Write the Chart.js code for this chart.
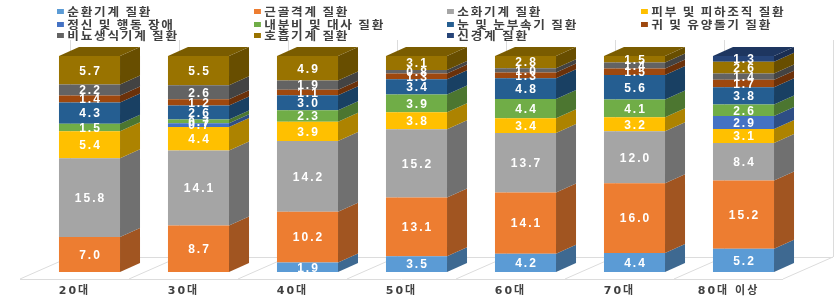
<!DOCTYPE html>
<html>
<head>
<meta charset="utf-8">
<script src="https://cdn.jsdelivr.net/npm/chart.js@4/dist/chart.umd.min.js"></script>
<style>
html, body { margin: 0; padding: 0; background: #fff; }
#wrap { position: relative; width: 840px; height: 296px; overflow: hidden; }
#legend { position: absolute; left: 0; top: 0; width: 840px; height: 44px; color: #404040;
  font: bold 11px "Noto Sans CJK KR", "Noto Sans", sans-serif; }
.item { position: absolute; white-space: nowrap; letter-spacing: 1.5px; line-height: 12px; height: 12px;
  transform: scaleX(1.15); transform-origin: 0 50%; }
.box { display: inline-block; width: 6px; height: 5px; margin-right: 3px; vertical-align: 2px; }
</style>
</head>
<body>
<div id="wrap">
  <canvas id="chart" width="840" height="296"></canvas>
  <div id="legend"></div>
</div>
<script>
// 연령대
const categories = ["20대", "30대", "40대", "50대", "60대", "70대", "80대 이상"];

// 질환 유형 (아래에서 위로 쌓이는 순서)
const seriesNames = [
    "순환기계 질환", "근골격계 질환", "소화기계 질환", "피부 및 피하조직 질환",
    "정신 및 행동 장애", "내분비 및 대사 질환", "눈 및 눈부속기 질환", "귀 및 유양돌기 질환",
    "비뇨생식기계 질환", "호흡기계 질환", "신경계 질환"
];

// 각 유형별 값 (0 = 표시 없음)
const circulatory     = [0,    0,    1.9,  3.5,  4.2,  4.4,  5.2];
const musculoskeletal = [7.0,  8.7,  10.2, 13.1, 14.1, 16.0, 15.2];
const digestive       = [15.8, 14.1, 14.2, 15.2, 13.7, 12.0, 8.4];
const skin            = [5.4,  4.4,  3.9,  3.8,  3.4,  3.2,  3.1];
const mental          = [0,    0.7,  0,    0,    0,    0,    2.9];
const endocrine       = [1.5,  0.7,  2.3,  3.9,  4.4,  4.1,  2.6];
const eye             = [4.3,  2.6,  3.0,  3.4,  4.8,  5.6,  3.8];
const ear             = [1.4,  1.2,  1.1,  1.3,  1.3,  1.5,  1.7];
const genitourinary   = [2.2,  2.6,  1.9,  0.8,  1.0,  1.4,  1.4];
const respiratory     = [5.7,  5.5,  4.9,  3.1,  2.8,  1.5,  2.6];
const nervous         = [0,    0,    0,    0,    0,    0,    1.3];

const seriesValues = [circulatory, musculoskeletal, digestive, skin, mental, endocrine,
    eye, ear, genitourinary, respiratory, nervous];

const seriesColors = ["#5B9BD5", "#ED7D31", "#A5A5A5", "#FFC000", "#4472C4", "#70AD47",
    "#255E91", "#9E480E", "#636363", "#997300", "#264478"];

// 100% 누적 막대: 연령대별 합계로 나눔
const totals = categories.map((c, i) => seriesValues.reduce((s, arr) => s + arr[i], 0));

const datasets = seriesNames.map((name, k) => ({
    label: name,
    data: seriesValues[k].map((v, i) => v / totals[i] * 100),
    rawValues: seriesValues[k],
    backgroundColor: seriesColors[k],
    borderWidth: 0,
    barPercentage: 0.56,
    categoryPercentage: 1.0
}));

// 색을 어둡게
const shade = (hex, f) => {
    const n = parseInt(hex.slice(1), 16);
    const r = Math.round(((n >> 16) & 255) * f);
    const g = Math.round(((n >> 8) & 255) * f);
    const b = Math.round((n & 255) * f);
    return "rgb(" + r + "," + g + "," + b + ")";
};

const DX = 20, DY = 9;          // 막대 옆면 깊이
const FLOOR_DX = 50, FLOOR_DY = 22;
const SHIFT = 15;               // 막대가 바닥 앞쪽에서 들어간 정도

const threeD = {
    id: "threeD",
    beforeDraw(chart) {
        chart.ctx.letterSpacing = "2px";
    },
    beforeDatasetsDraw(chart) {
        const ctx = chart.ctx;
        const area = chart.chartArea;
        const step = (area.right - area.left) / categories.length;
        const frontY = area.bottom + 7;
        const x0 = area.left - SHIFT;
        ctx.save();
        ctx.strokeStyle = "#dcdcdc";
        ctx.lineWidth = 1;
        ctx.beginPath();
        ctx.moveTo(x0, frontY + 0.5);
        ctx.lineTo(x0 + step * categories.length, frontY + 0.5);
        ctx.moveTo(x0 + FLOOR_DX, frontY - FLOOR_DY + 0.5);
        ctx.lineTo(x0 + FLOOR_DX + step * categories.length, frontY - FLOOR_DY + 0.5);
        for (let i = 0; i <= categories.length; i++) {
            const x = Math.round(x0 + step * i);
            ctx.moveTo(x, frontY);
            ctx.lineTo(x + FLOOR_DX, frontY - FLOOR_DY);
            ctx.moveTo(x + FLOOR_DX + 0.5, frontY - FLOOR_DY);
            ctx.lineTo(x + FLOOR_DX + 0.5, area.top - 16);
        }
        ctx.stroke();
        ctx.restore();
    },
    afterDatasetsDraw(chart) {
        const ctx = chart.ctx;
        ctx.save();
        // 옆면과 윗면
        chart.data.datasets.forEach((ds, k) => {
            const meta = chart.getDatasetMeta(k);
            meta.data.forEach((bar, i) => {
                if (!ds.rawValues[i]) return;
                const right = bar.x + bar.width / 2;
                const left = bar.x - bar.width / 2;
                ctx.fillStyle = shade(ds.backgroundColor, 0.68);
                ctx.beginPath();
                ctx.moveTo(right, bar.y);
                ctx.lineTo(right + DX, bar.y - DY);
                ctx.lineTo(right + DX, bar.base - DY);
                ctx.lineTo(right, bar.base);
                ctx.closePath();
                ctx.fill();
                // 맨 위 구간이면 윗면
                const above = chart.data.datasets.slice(k + 1).some(d => d.rawValues[i] > 0);
                if (!above) {
                    ctx.fillStyle = shade(ds.backgroundColor, 0.8);
                    ctx.beginPath();
                    ctx.moveTo(left, bar.y);
                    ctx.lineTo(left + DX, bar.y - DY);
                    ctx.lineTo(right + DX, bar.y - DY);
                    ctx.lineTo(right, bar.y);
                    ctx.closePath();
                    ctx.fill();
                }
            });
        });
        // 값 표시
        ctx.fillStyle = "#ffffff";
        ctx.font = "bold 12px 'Liberation Sans', Arial, sans-serif";
        ctx.textAlign = "center";
        ctx.textBaseline = "middle";
        chart.data.datasets.forEach((ds, k) => {
            const meta = chart.getDatasetMeta(k);
            meta.data.forEach((bar, i) => {
                const v = ds.rawValues[i];
                if (!v) return;
                ctx.fillText(v.toFixed(1), bar.x + 1, (bar.y + bar.base) / 2 + 1);
            });
        });
        ctx.restore();
    }
};

const chart = new Chart(document.getElementById("chart").getContext("2d"), {
    type: "bar",
    data: { labels: categories, datasets: datasets },
    options: {
        responsive: false,
        animation: false,
        layout: { padding: { left: 35, right: 42, top: 56, bottom: 0 } },
        plugins: { legend: { display: false }, tooltip: { enabled: false } },
        scales: {
            x: {
                stacked: true,
                grid: { display: false, drawTicks: false },
                border: { display: false },
                afterFit(scale) { scale.height = 24; },
                ticks: {
                    labelOffset: -SHIFT,
                    padding: 13,
                    autoSkip: false,
                    maxRotation: 0,
                    color: "#404040",
                    font: { family: "'DejaVu Sans', 'Noto Sans CJK KR'", size: 11, weight: "bold" }
                }
            },
            y: { stacked: true, display: false, min: 0, max: 100 }
        }
    },
    plugins: [threeD]
});

// 범례 (4열)
const legendCols = [57, 254, 447, 641];
const legendRows = [5, 18, 29];
const legendEl = document.getElementById("legend");
chart.data.datasets.forEach((ds, k) => {
    const item = document.createElement("div");
    item.className = "item";
    item.style.left = legendCols[k % 4] + "px";
    item.style.top = legendRows[Math.floor(k / 4)] + "px";
    item.innerHTML = '<span class="box" style="background:' + ds.backgroundColor + '"></span>' + ds.label;
    legendEl.appendChild(item);
});
</script>
</body>
</html>
